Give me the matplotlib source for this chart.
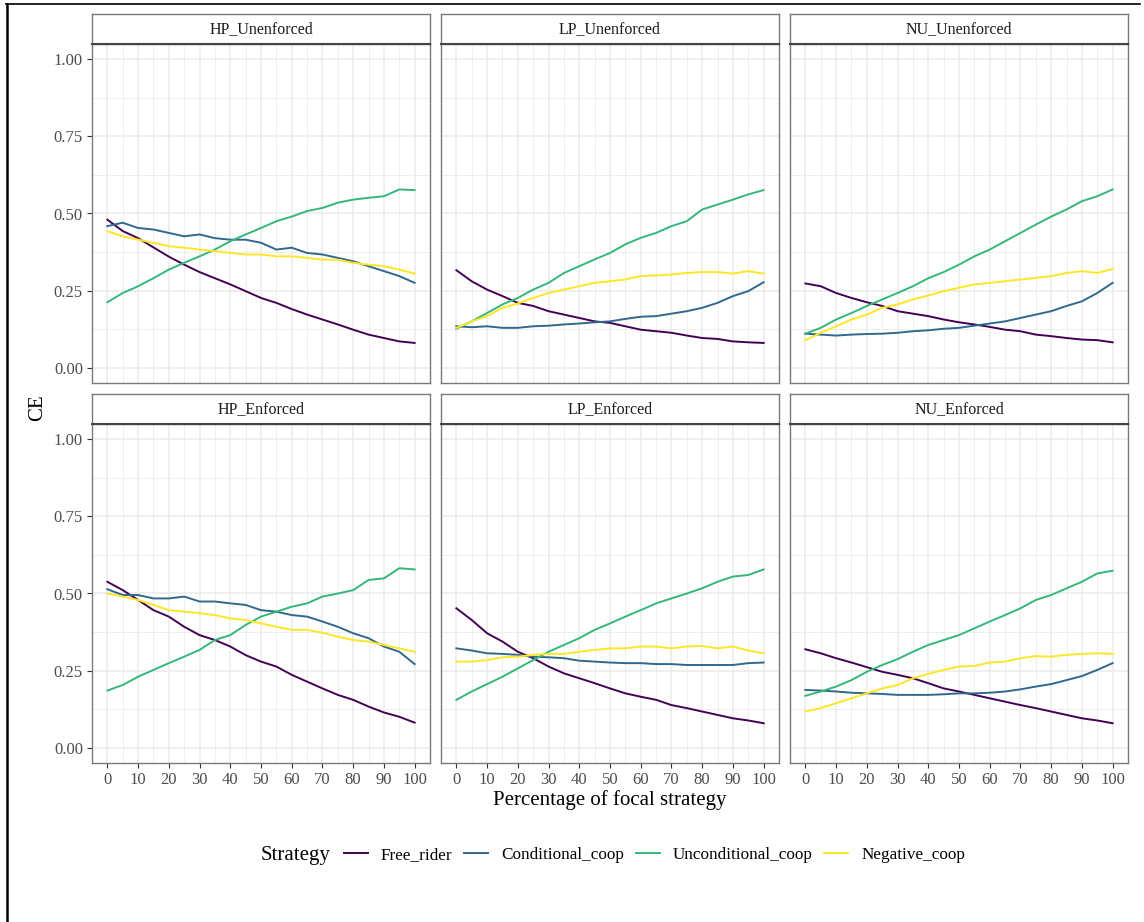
import matplotlib
matplotlib.use("Agg")
import matplotlib.pyplot as plt
from matplotlib.lines import Line2D
import numpy as np

plt.rcParams['font.family'] = ['Liberation Serif', 'DejaVu Serif']

# x positions (percentage of focal strategy), values read every 5 units
pct = np.arange(0, 101, 5)

strategies = ['Free_rider', 'Conditional_coop', 'Unconditional_coop', 'Negative_coop']
colors = ['#440154', '#31688E', '#35B779', '#FDE725']
panel_titles = ['HP_Unenforced', 'LP_Unenforced', 'NU_Unenforced',
                'HP_Enforced', 'LP_Enforced', 'NU_Enforced']

# HP_Unenforced
hp_unenf_free = [0.48, 0.443, 0.42, 0.39, 0.36, 0.334, 0.31, 0.29, 0.27, 0.248, 0.226,
                 0.21, 0.19, 0.172, 0.156, 0.14, 0.123, 0.107, 0.096, 0.085, 0.08]
hp_unenf_cond = [0.459, 0.47, 0.453, 0.448, 0.437, 0.426, 0.432, 0.42, 0.415, 0.415, 0.405,
                 0.383, 0.389, 0.372, 0.367, 0.356, 0.345, 0.329, 0.313, 0.297, 0.275]
hp_unenf_uncond = [0.212, 0.242, 0.264, 0.29, 0.318, 0.34, 0.361, 0.383, 0.41, 0.432, 0.453,
                   0.475, 0.49, 0.508, 0.518, 0.535, 0.545, 0.551, 0.556, 0.578, 0.576]
hp_unenf_neg = [0.443, 0.426, 0.415, 0.405, 0.394, 0.389, 0.383, 0.378, 0.372, 0.367, 0.367,
                0.361, 0.361, 0.356, 0.35, 0.35, 0.34, 0.334, 0.329, 0.318, 0.305]

# LP_Unenforced
lp_unenf_free = [0.316, 0.28, 0.253, 0.232, 0.21, 0.2, 0.183, 0.172, 0.161, 0.15, 0.145,
                 0.134, 0.123, 0.118, 0.113, 0.104, 0.096, 0.093, 0.085, 0.082, 0.08]
lp_unenf_cond = [0.134, 0.131, 0.134, 0.129, 0.129, 0.134, 0.136, 0.14, 0.143, 0.147, 0.15,
                 0.158, 0.165, 0.167, 0.175, 0.183, 0.194, 0.21, 0.232, 0.248, 0.277]
lp_unenf_uncond = [0.126, 0.15, 0.177, 0.205, 0.226, 0.253, 0.275, 0.307, 0.329, 0.351, 0.372,
                   0.4, 0.421, 0.437, 0.459, 0.475, 0.513, 0.529, 0.545, 0.562, 0.576]
lp_unenf_neg = [0.129, 0.15, 0.167, 0.194, 0.208, 0.226, 0.242, 0.253, 0.264, 0.275, 0.28,
                0.286, 0.297, 0.299, 0.302, 0.307, 0.31, 0.31, 0.305, 0.313, 0.305]

# NU_Unenforced
nu_unenf_free = [0.273, 0.264, 0.242, 0.226, 0.212, 0.2, 0.183, 0.175, 0.167, 0.156, 0.147,
                 0.14, 0.132, 0.123, 0.118, 0.107, 0.102, 0.096, 0.091, 0.089, 0.082]
nu_unenf_cond = [0.11, 0.107, 0.104, 0.107, 0.109, 0.11, 0.113, 0.118, 0.121, 0.126, 0.129,
                 0.136, 0.143, 0.15, 0.161, 0.172, 0.183, 0.2, 0.215, 0.242, 0.275]
nu_unenf_uncond = [0.11, 0.129, 0.156, 0.177, 0.2, 0.221, 0.242, 0.264, 0.29, 0.31, 0.334,
                   0.361, 0.383, 0.41, 0.437, 0.464, 0.49, 0.513, 0.54, 0.556, 0.578]
nu_unenf_neg = [0.089, 0.113, 0.134, 0.156, 0.172, 0.194, 0.205, 0.221, 0.234, 0.248, 0.259,
                0.27, 0.275, 0.28, 0.286, 0.291, 0.297, 0.307, 0.313, 0.307, 0.32]

# HP_Enforced
hp_enf_free = [0.538, 0.511, 0.479, 0.446, 0.425, 0.392, 0.365, 0.349, 0.328, 0.3, 0.279,
               0.263, 0.236, 0.214, 0.192, 0.171, 0.155, 0.133, 0.114, 0.1, 0.081]
hp_enf_cond = [0.514, 0.495, 0.495, 0.484, 0.484, 0.49, 0.474, 0.474, 0.468, 0.463, 0.446,
               0.441, 0.43, 0.425, 0.409, 0.392, 0.371, 0.355, 0.328, 0.311, 0.271]
hp_enf_uncond = [0.185, 0.203, 0.23, 0.252, 0.274, 0.295, 0.317, 0.349, 0.365, 0.398, 0.425,
                 0.441, 0.457, 0.468, 0.49, 0.5, 0.511, 0.544, 0.549, 0.582, 0.578]
hp_enf_neg = [0.5, 0.49, 0.479, 0.463, 0.446, 0.441, 0.436, 0.43, 0.419, 0.414, 0.403,
              0.392, 0.382, 0.382, 0.373, 0.36, 0.349, 0.344, 0.333, 0.322, 0.311]

# LP_Enforced
lp_enf_free = [0.452, 0.414, 0.371, 0.344, 0.311, 0.29, 0.263, 0.241, 0.225, 0.209, 0.192,
               0.176, 0.165, 0.155, 0.138, 0.128, 0.117, 0.106, 0.095, 0.088, 0.079]
lp_enf_cond = [0.322, 0.315, 0.306, 0.304, 0.301, 0.295, 0.293, 0.29, 0.282, 0.279, 0.276,
               0.274, 0.274, 0.271, 0.271, 0.268, 0.268, 0.268, 0.268, 0.274, 0.276]
lp_enf_uncond = [0.155, 0.182, 0.206, 0.23, 0.257, 0.284, 0.311, 0.333, 0.355, 0.382, 0.403,
                 0.425, 0.446, 0.468, 0.484, 0.5, 0.517, 0.538, 0.555, 0.56, 0.578]
lp_enf_neg = [0.279, 0.279, 0.284, 0.293, 0.295, 0.301, 0.304, 0.304, 0.311, 0.317, 0.322,
              0.322, 0.328, 0.328, 0.322, 0.328, 0.33, 0.322, 0.328, 0.315, 0.306]

# NU_Enforced
nu_enf_free = [0.319, 0.306, 0.29, 0.276, 0.261, 0.246, 0.236, 0.225, 0.209, 0.192, 0.182,
               0.171, 0.16, 0.149, 0.138, 0.128, 0.117, 0.106, 0.095, 0.088, 0.079]
nu_enf_cond = [0.187, 0.185, 0.182, 0.178, 0.176, 0.174, 0.171, 0.171, 0.171, 0.173, 0.176,
               0.176, 0.178, 0.182, 0.189, 0.198, 0.206, 0.219, 0.232, 0.252, 0.274]
nu_enf_uncond = [0.168, 0.182, 0.198, 0.219, 0.246, 0.268, 0.287, 0.311, 0.333, 0.349, 0.365,
                 0.387, 0.409, 0.43, 0.452, 0.479, 0.495, 0.517, 0.538, 0.565, 0.574]
nu_enf_neg = [0.117, 0.128, 0.144, 0.16, 0.176, 0.192, 0.203, 0.225, 0.239, 0.252, 0.263,
              0.265, 0.276, 0.279, 0.29, 0.297, 0.295, 0.301, 0.304, 0.306, 0.304]

panel_data = [
    [hp_unenf_free, hp_unenf_cond, hp_unenf_uncond, hp_unenf_neg],
    [lp_unenf_free, lp_unenf_cond, lp_unenf_uncond, lp_unenf_neg],
    [nu_unenf_free, nu_unenf_cond, nu_unenf_uncond, nu_unenf_neg],
    [hp_enf_free, hp_enf_cond, hp_enf_uncond, hp_enf_neg],
    [lp_enf_free, lp_enf_cond, lp_enf_uncond, lp_enf_neg],
    [nu_enf_free, nu_enf_cond, nu_enf_uncond, nu_enf_neg],
]

W, H = 1144, 922
fig = plt.figure(figsize=(W / 100, H / 100), dpi=100)

col_left = [92, 441, 790]
panel_w = 338
row_top = [44, 424]      # top of plotting area (pixels)
panel_h = 339
strip_h = 30


def fx(px):
    return px / W


def fy(py):
    return 1 - py / H


handles = []
for i, title in enumerate(panel_titles):
    r, c = divmod(i, 3)
    left = col_left[c]
    top = row_top[r]
    ax = fig.add_axes([fx(left), fy(top + panel_h), panel_w / W, panel_h / H])
    for vals, col in zip(panel_data[i], colors):
        ln, = ax.plot(pct, vals, color=col, lw=1.4)
        if i == 0:
            handles.append(ln)
    ax.set_xlim(-5, 105)
    ax.set_ylim(-0.05, 1.05)
    ax.set_xticks(np.arange(0, 101, 10))
    ax.set_xticks(np.arange(5, 101, 10), minor=True)
    ax.set_yticks([0, 0.25, 0.5, 0.75, 1.0])
    ax.set_yticks([0.125, 0.375, 0.625, 0.875], minor=True)
    ax.set_yticklabels(['0.00', '0.25', '0.50', '0.75', '1.00'])
    ax.grid(True, which='major', color='#EBEBEB', lw=1.1)
    ax.grid(True, which='minor', color='#EBEBEB', lw=0.6)
    ax.set_axisbelow(True)
    for s in ax.spines.values():
        s.set_color('#7A7A7A')
        s.set_linewidth(1.0)
    ax.tick_params(which='minor', length=0)
    ax.tick_params(which='major', length=3.5, color='#333333', width=0.8,
                   labelsize=12, labelcolor='#4D4D4D', pad=3)
    if c != 0:
        ax.tick_params(axis='y', left=False, labelleft=False)
    if r == 0:
        ax.tick_params(axis='x', bottom=False, labelbottom=False)

    # facet strip
    sax = fig.add_axes([fx(left), fy(top), panel_w / W, strip_h / H])
    sax.set_xticks([])
    sax.set_yticks([])
    sax.set_facecolor('white')
    for s in sax.spines.values():
        s.set_color('#7A7A7A')
        s.set_linewidth(1.0)
    sax.spines['bottom'].set_color('#444444')
    sax.spines['bottom'].set_linewidth(1.5)
    sax.text(0.5, 0.5, title, ha='center', va='center', fontsize=11.5,
             color='#1A1A1A', transform=sax.transAxes)

fig.text(fx(38), fy(408), 'CE', rotation=90, ha='center', va='center', fontsize=15)
fig.text(fx(610), fy(800), 'Percentage of focal strategy', ha='center', va='center',
         fontsize=15)

fig.text(fx(261), fy(855), 'Strategy', ha='left', va='center', fontsize=15)
fig.legend(handles, strategies, loc='center left', bbox_to_anchor=(fx(344), fy(855)),
           ncol=4, frameon=False, fontsize=12.3, handlelength=1.4, handletextpad=0.75,
           columnspacing=0.7, borderpad=0, borderaxespad=0)

# outer frame lines (left and top)
fig.add_artist(Line2D([fx(7), fx(7)], [0, fy(4)], color='black', lw=1.8))
fig.add_artist(Line2D([fx(6), fx(1140)], [fy(4), fy(4)], color='black', lw=1.2))

fig.savefig('out.png', dpi=100)
